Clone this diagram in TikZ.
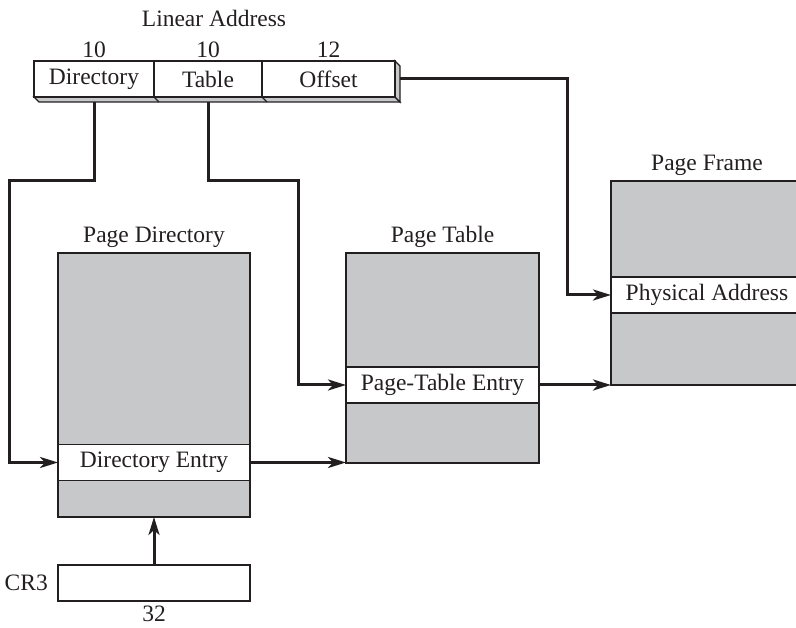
\documentclass[tikz,border=0pt]{standalone}
\usepackage{fontspec}
\setmainfont{Liberation Serif}
\usetikzlibrary{arrows.meta, positioning}
\definecolor{pgink}{RGB}{35,31,32}
\definecolor{pggray}{RGB}{199,200,202}

\begin{document}
\begin{tikzpicture}[x=1pt, y=1pt,
  every node/.style={font=\fontsize{23.5}{28}\selectfont, text=pgink},
  field/.style={rectangle, draw=pgink, line width=1.3pt, fill=white, minimum height=36pt, inner sep=0pt, outer sep=0pt},
  mem/.style={rectangle, draw=pgink, line width=1.3pt, fill=pggray, minimum width=192pt, inner sep=0pt, outer sep=0pt},
  entry/.style={rectangle, draw=pgink, line width=1.3pt, fill=white, minimum width=192pt, minimum height=36pt, inner sep=0pt, outer sep=0pt},
  lbl/.style={inner sep=2pt},
  arr/.style={-{Stealth[length=18pt, width=11pt, inset=5pt]}, line width=3pt, draw=pgink}
]
\useasboundingbox (0,0) rectangle (796,628);
\fill[pggray, draw=pgink, line width=1.3pt] (34,531) -- (39,526) -- (400,526) -- (395,531) -- cycle;
\fill[pggray, draw=pgink, line width=1.3pt] (395,567) -- (400,562) -- (400,526) -- (395,531) -- cycle;
\draw[pgink, line width=1.3pt] (154,531) -- (159,526) (262,531) -- (267,526);
\node[field, minimum width=120pt] (dirf) at (94,549) {Directory};
\node[field, minimum width=108pt, right=0pt of dirf] (tabf) {Table};
\node[field, minimum width=133pt, right=0pt of tabf] (offf) {Offset};
\node[lbl, above=1pt of dirf] (dirbits) {10};
\node[lbl, above=1pt of tabf] (tabbits) {10};
\node[lbl, above=1pt of offf] (offbits) {12};
\node[lbl] (linaddr) at (214,610) {Linear Address};

\node[mem, minimum height=264pt] (pdir) at (154,243) {};
\node[entry] (dirent) at (154,165.5) {Directory Entry};
\node[lbl, above=3pt of pdir] (pdirlbl) {Page Directory};
\node[field, minimum width=192pt] (cr3) at (154,45) {};
\node[lbl, left=8pt of cr3] (cr3lbl) {CR3};
\node[lbl, below=3pt of cr3] (cr3bits) {32};

\node[mem, minimum width=193pt, minimum height=210pt] (pt) at (442.5,270) {};
\node[entry, minimum width=193pt] (ptent) at (442.5,243) {Page-Table Entry};
\node[lbl, above=3pt of pt] (ptlbl) {Page Table};

\node[mem, minimum height=204pt] (pf) at (707,345) {};
\node[entry] (pfent) at (707,333) {Physical Address};
\node[lbl, above=3pt of pf] (pflbl) {Page Frame};

\coordinate (dbend) at (9,447);
\coordinate (tbend) at (298,447);
\coordinate (obend) at (567,333);
\draw[arr] ([yshift=-5pt]dirf.south) |- (dbend) |- (dirent.west);
\draw[arr] ([yshift=-5pt]tabf.south) |- (tbend) |- (ptent.west);
\draw[arr] ([xshift=5pt]offf.east) -| (obend) -- (pfent.west);
\draw[arr] (dirent.east) -- (dirent.east -| pt.west);
\draw[arr] (ptent.east) -- (ptent.east -| pf.west);
\draw[arr] (cr3.north) -- (pdir.south);
\end{tikzpicture}
\end{document}
